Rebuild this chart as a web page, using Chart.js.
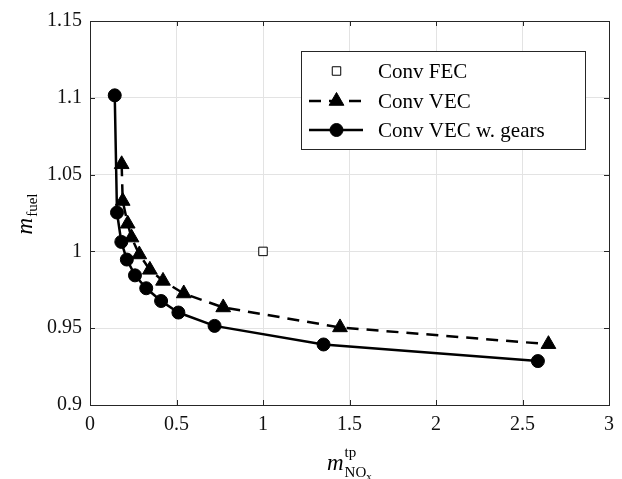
<!DOCTYPE html>
<html>
<head>
<meta charset="utf-8">
<script src="https://cdn.jsdelivr.net/npm/chart.js@4"></script>
<style>
html, body { margin: 0; padding: 0; background: #fff; }
#wrap { width: 622px; height: 479px; }
</style>
</head>
<body>
<div id="wrap"><canvas id="fuelChart"></canvas></div>
<script>
// axis ticks
const xTicks = [0, 0.5, 1, 1.5, 2, 2.5, 3];
const xTickLabels = ['0', '0.5', '1', '1.5', '2', '2.5', '3'];
const yTicks = [0.9, 0.95, 1, 1.05, 1.1, 1.15];
const yTickLabels = ['0.9', '0.95', '1', '1.05', '1.1', '1.15'];

// series (x = NOx tailpipe, y = fuel mass, both normalised)
const seriesNames = ['Conv FEC', 'Conv VEC', 'Conv VEC w. gears'];
const fecNox = [1.0];
const fecFuel = [1.0];
const vecNox = [0.183, 0.189, 0.218, 0.240, 0.285, 0.346, 0.422, 0.542, 0.770, 1.445, 2.650];
const vecFuel = [1.0567, 1.0328, 1.018, 1.009, 0.998, 0.988, 0.9808, 0.9726, 0.9635, 0.9505, 0.9396];
const gearsNox = [0.143, 0.156, 0.181, 0.213, 0.260, 0.325, 0.411, 0.511, 0.720, 1.350, 2.589];
const gearsFuel = [1.1016, 1.0253, 1.0062, 0.9947, 0.9844, 0.9760, 0.9677, 0.9602, 0.9515, 0.9394, 0.9286];

const toPoints = (xs, ys) => xs.map((x, i) => ({ x: x, y: ys[i] }));

const INK = '#262626';
const SERIF = '"Liberation Serif", "DejaVu Serif", serif';

// box, inward ticks, axis titles and legend (matlab style)
const matlabDecor = {
    id: 'matlabDecor',
    afterDraw(chart) {
        const ctx = chart.ctx;
        const a = chart.chartArea;
        const xs = chart.scales.x, ys = chart.scales.y;
        ctx.save();
        ctx.strokeStyle = INK;
        ctx.lineWidth = 1;
        ctx.beginPath();
        xTicks.forEach(v => {
            const px = Math.round(xs.getPixelForValue(v)) + 0.5;
            ctx.moveTo(px, a.bottom); ctx.lineTo(px, a.bottom - 5);
            ctx.moveTo(px, a.top); ctx.lineTo(px, a.top + 5);
        });
        yTicks.forEach(v => {
            const py = Math.round(ys.getPixelForValue(v)) + 0.5;
            ctx.moveTo(a.left, py); ctx.lineTo(a.left + 5, py);
            ctx.moveTo(a.right, py); ctx.lineTo(a.right - 5, py);
        });
        ctx.stroke();
        ctx.strokeRect(Math.round(a.left) + 0.5, Math.round(a.top) + 0.5,
            Math.round(a.right - a.left), Math.round(a.bottom - a.top));

        // x title: m^tp_NOx
        ctx.fillStyle = '#000';
        ctx.textBaseline = 'alphabetic';
        ctx.textAlign = 'left';
        let x0 = 327;
        ctx.font = 'italic 23px ' + SERIF;
        ctx.fillText('m', x0, 470);
        const wm = ctx.measureText('m').width;
        ctx.font = '15px ' + SERIF;
        ctx.fillText('tp', x0 + wm + 1, 457);
        ctx.fillText('NO', x0 + wm + 1, 477);
        const wno = ctx.measureText('NO').width;
        ctx.font = '11px ' + SERIF;
        ctx.fillText('x', x0 + wm + 1 + wno, 480);

        // y title: m_fuel rotated
        ctx.save();
        ctx.translate(32, 214);
        ctx.rotate(-Math.PI / 2);
        ctx.font = 'italic 23px ' + SERIF;
        const wm2 = ctx.measureText('m').width;
        ctx.font = '15px ' + SERIF;
        const wf = ctx.measureText('fuel').width;
        const start = -(wm2 + 1 + wf) / 2;
        ctx.font = 'italic 23px ' + SERIF;
        ctx.fillText('m', start, 0);
        ctx.font = '15px ' + SERIF;
        ctx.fillText('fuel', start + wm2 + 1, 5);
        ctx.restore();

        // legend
        const lx = 301, ly = 51, lw = 284, lh = 98;
        ctx.fillStyle = '#fff';
        ctx.fillRect(lx, ly, lw, lh);
        ctx.strokeStyle = INK;
        ctx.lineWidth = 1;
        ctx.strokeRect(lx + 0.5, ly + 0.5, lw, lh);
        const rows = [71, 101, 130];
        chart.data.datasets.forEach((ds, i) => {
            const y = rows[i];
            ctx.strokeStyle = '#000';
            if (ds.showLine) {
                ctx.lineWidth = ds.borderWidth;
                ctx.setLineDash(ds.borderDash || []);
                ctx.beginPath();
                ctx.moveTo(309, y); ctx.lineTo(363, y);
                ctx.stroke();
                ctx.setLineDash([]);
            }
            ctx.lineWidth = ds.pointBorderWidth;
            ctx.strokeStyle = ds.pointBorderColor;
            ctx.fillStyle = ds.pointBackgroundColor;
            Chart.helpers.drawPoint(ctx, {
                pointStyle: ds.pointStyle,
                rotation: 0,
                radius: ds.pointRadius,
                borderWidth: ds.pointBorderWidth
            }, 336.5, y);
            ctx.fillStyle = '#000';
            ctx.font = '21px ' + SERIF;
            ctx.textBaseline = 'middle';
            ctx.fillText(ds.label, 378, y + 1);
        });
        ctx.restore();
    }
};

const canvas = document.getElementById('fuelChart');
const ctx = canvas.getContext('2d');

new Chart(ctx, {
    type: 'scatter',
    data: {
        datasets: [{
            label: seriesNames[0],
            data: toPoints(fecNox, fecFuel),
            showLine: false,
            pointStyle: 'rect',
            pointRadius: 6,
            pointBorderWidth: 1,
            pointBorderColor: '#000',
            pointBackgroundColor: '#fff',
            order: 3
        }, {
            label: seriesNames[1],
            data: toPoints(vecNox, vecFuel),
            showLine: true,
            borderColor: '#000',
            borderWidth: 2.5,
            borderDash: [12, 8],
            pointStyle: 'triangle',
            pointRadius: 8.5,
            pointBorderWidth: 1,
            pointBorderColor: '#000',
            pointBackgroundColor: '#000',
            order: 2
        }, {
            label: seriesNames[2],
            data: toPoints(gearsNox, gearsFuel),
            showLine: true,
            borderColor: '#000',
            borderWidth: 2.5,
            pointStyle: 'circle',
            pointRadius: 6.5,
            pointBorderWidth: 1,
            pointBorderColor: '#000',
            pointBackgroundColor: '#000',
            order: 1
        }]
    },
    options: {
        responsive: true,
        maintainAspectRatio: false,
        animation: false,
        layout: { padding: { left: 0, top: 21, right: 4.5, bottom: 0 } },
        plugins: {
            legend: { display: false },
            tooltip: { enabled: false }
        },
        scales: {
            x: {
                type: 'linear',
                min: 0,
                max: 3,
                afterBuildTicks: scale => { scale.ticks = xTicks.map(v => ({ value: v })); },
                afterFit: scale => { scale.height = 74; },
                ticks: {
                    callback: (v, i) => xTickLabels[i],
                    font: { family: SERIF, size: 20 },
                    color: '#111',
                    padding: 8,
                    maxRotation: 0
                },
                grid: {
                    color: c => (c.tick && (c.tick.value === 0 || c.tick.value === 3)) ? 'rgba(0,0,0,0)' : '#e3e3e3',
                    lineWidth: 1,
                    drawTicks: false
                },
                border: { display: false }
            },
            y: {
                type: 'linear',
                min: 0.9,
                max: 1.15,
                afterBuildTicks: scale => { scale.ticks = yTicks.map(v => ({ value: v })); },
                afterFit: scale => { scale.width = 90; },
                ticks: {
                    callback: (v, i) => yTickLabels[i],
                    font: { family: SERIF, size: 20 },
                    color: '#111',
                    padding: 8
                },
                grid: {
                    color: c => (c.tick && (c.tick.value === 0.9 || c.tick.value === 1.15)) ? 'rgba(0,0,0,0)' : '#e3e3e3',
                    lineWidth: 1,
                    drawTicks: false
                },
                border: { display: false }
            }
        }
    },
    plugins: [matlabDecor]
});
</script>
</body>
</html>
